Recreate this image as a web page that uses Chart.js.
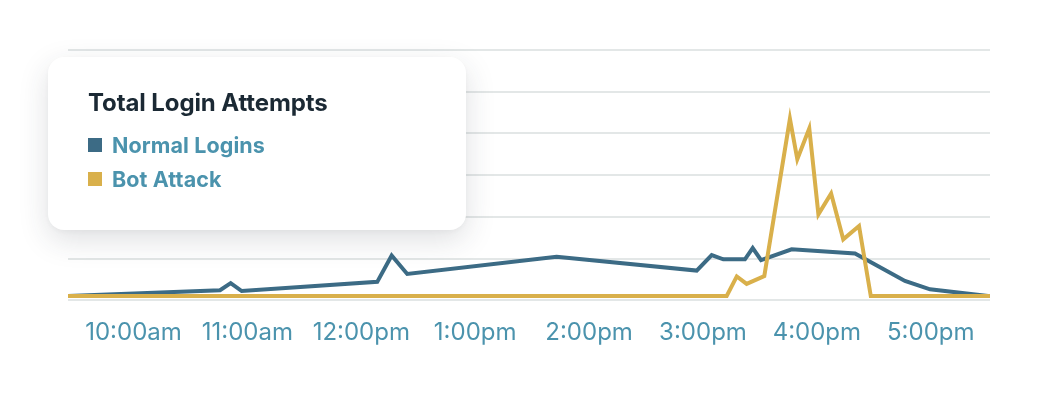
<!DOCTYPE html>
<html>
<head>
<meta charset="utf-8">
<script src="https://cdn.jsdelivr.net/npm/chart.js@4.4.1/dist/chart.umd.min.js"></script>
<style>
  html, body { margin: 0; padding: 0; background: #ffffff; }
  #wrap { position: relative; width: 1052px; height: 394px; }
  #chart { position: absolute; left: 0; top: 0; }
  #legend {
    position: absolute; left: 48px; top: 57px; width: 418px; height: 173px;
    box-sizing: border-box; background: #fff; border-radius: 16px;
    box-shadow: 0 10px 30px rgba(40, 50, 60, 0.15), 0 2px 6px rgba(40,50,60,0.04);
    padding: 31px 40px; font-family: Inter, "Noto Sans", sans-serif;
  }
  #legend h3 { margin: 0 0 10px 0; font-size: 24px; font-weight: 700; color: #1b2934; letter-spacing: -0.1px; line-height: 30px; }
  #legend ul { list-style: none; margin: 0; padding: 0; }
  #legend li { display: flex; align-items: center; height: 34px; font-size: 21.5px; font-weight: 700; color: #4b93ad; letter-spacing: 0.1px; }
  #legend li span.sw { width: 14px; height: 14px; margin-right: 10px; display: inline-block; }
</style>
</head>
<body>
<div id="wrap">
  <canvas id="chart" width="1052" height="394"></canvas>
  <div id="legend"><h3 id="legendTitle"></h3><ul id="legendList"></ul></div>
</div>
<script>
// ---- data ----
const chartTitle = "Total Login Attempts";
const seriesNames = ["Normal Logins", "Bot Attack"];
const tickLabels = ["10:00am", "11:00am", "12:00pm", "1:00pm", "2:00pm", "3:00pm", "4:00pm", "5:00pm"];
const tickTimes = ["10:00", "11:00", "12:00", "13:00", "14:00", "15:00", "16:00", "17:00"];
const axisStart = "9:25.5";
const axisEnd = "17:31.2";

const normalTimes  = ["9:25.5", "10:45.6", "10:51.2", "10:57", "12:08.4", "12:16", "12:24.2", "13:42.9", "14:56.7", "15:04.6", "15:10.7", "15:22.1", "15:26.2", "15:30.6", "15:46.7", "16:20.1", "16:46.4", "16:59.6", "17:30.2"];
const normalValues = [0, 1.4, 3.1, 1.2, 3.4, 9.7, 5.3, 9.4, 6.1, 9.8, 8.8, 8.8, 11.5, 8.6, 11.2, 10.2, 3.6, 1.6, 0];

const botTimes  = ["9:25.5", "15:12.5", "15:17.8", "15:23", "15:32.3", "15:45.8", "15:49.7", "15:56", "16:00.8", "16:07.5", "16:13.9", "16:22.2", "16:28.4", "17:31.2"];
const botValues = [0, 0, 4.7, 2.9, 4.8, 42.5, 32.8, 40.2, 19.6, 24.6, 13.6, 16.8, 0, 0];

const yGridValues = [-1, 9, 19, 29, 39, 49, 59];

const colors = ["#3c6b85", "#d9b04b"];

// ---- helpers ----
function toMin(t) { const [h, m] = t.split(":"); return Number(h) * 60 + Number(m); }
function pts(times, vals) { return times.map((t, i) => ({ x: toMin(t), y: vals[i] })); }
const tickMins = tickTimes.map(toMin);

const chart = new Chart(document.getElementById("chart"), {
  type: "line",
  data: {
    datasets: [
      { label: seriesNames[0], data: pts(normalTimes, normalValues), borderColor: colors[0], backgroundColor: colors[0], borderWidth: 4, pointRadius: 0, tension: 0, order: 1, borderJoinStyle: "miter" },
      { label: seriesNames[1], data: pts(botTimes, botValues), borderColor: colors[1], backgroundColor: colors[1], borderWidth: 4, pointRadius: 0, tension: 0, order: 0, borderJoinStyle: "miter" }
    ]
  },
  options: {
    responsive: false,
    animation: false,
    events: [],
    layout: { padding: { left: 68, right: 62, top: 50, bottom: 29 } },
    plugins: { legend: { display: false }, tooltip: { enabled: false }, title: { display: false } },
    scales: {
      x: {
        type: "linear",
        min: toMin(axisStart),
        max: toMin(axisEnd),
        grid: { display: false, drawTicks: false },
        border: { display: false },
        afterBuildTicks: s => { s.ticks = tickMins.map(v => ({ value: v })); },
        ticks: {
          autoSkip: false, maxRotation: 0, padding: 18,
          color: "#4b93ad",
          font: { family: "Inter, 'Noto Sans', sans-serif", size: 24, weight: "400" },
          callback: (v) => tickLabels[tickMins.indexOf(v)]
        }
      },
      y: {
        min: yGridValues[0],
        max: yGridValues[yGridValues.length - 1],
        afterBuildTicks: s => { s.ticks = yGridValues.map(v => ({ value: v })); },
        grid: { color: "#e3e7e7", lineWidth: 2, drawTicks: false },
        border: { display: false },
        ticks: { display: false }
      }
    }
  }
});

// HTML legend built from the chart's datasets
document.getElementById("legendTitle").textContent = chartTitle;
const ul = document.getElementById("legendList");
chart.data.datasets.forEach(ds => {
  const li = document.createElement("li");
  const sw = document.createElement("span");
  sw.className = "sw"; sw.style.background = ds.borderColor;
  li.appendChild(sw);
  li.appendChild(document.createTextNode(ds.label));
  ul.appendChild(li);
});
</script>
</body>
</html>
